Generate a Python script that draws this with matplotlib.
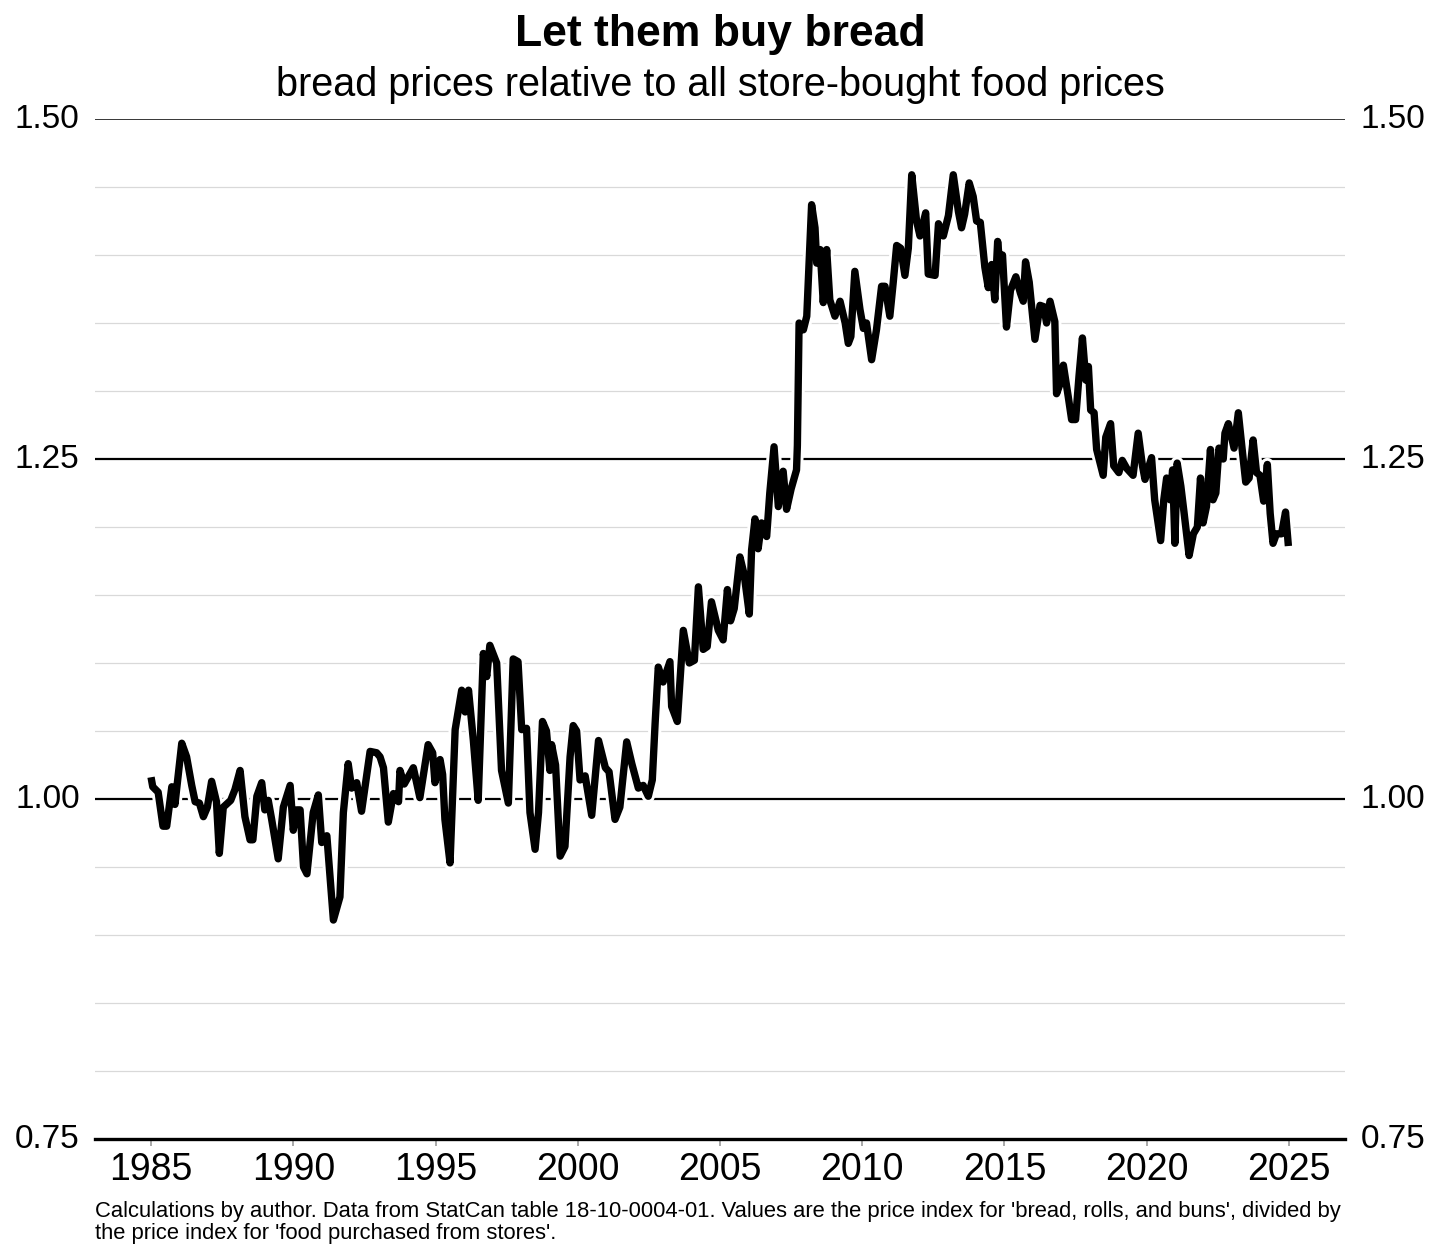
import matplotlib
matplotlib.use("Agg")
import matplotlib.pyplot as plt
import matplotlib.patheffects as pe
import numpy as np

plt.rcParams['font.family'] = ['Liberation Sans', 'DejaVu Sans']

# bread price index / store-bought food price index
years = [
    1985.00, 1985.06, 1985.25, 1985.42, 1985.55, 1985.73, 1985.84, 1986.08, 1986.25, 1986.43,
    1986.55, 1986.70, 1986.84, 1986.98, 1987.13, 1987.30, 1987.40, 1987.54, 1987.80, 1987.95,
    1988.13, 1988.30, 1988.48, 1988.58, 1988.72, 1988.89, 1989.00, 1989.12, 1989.24, 1989.47,
    1989.65, 1989.89, 1990.00, 1990.12, 1990.24, 1990.36, 1990.48, 1990.70, 1990.88, 1991.00,
    1991.18, 1991.41, 1991.64, 1991.76, 1991.93, 1992.05, 1992.23, 1992.40, 1992.70, 1992.93,
    1993.05, 1993.17, 1993.34, 1993.52, 1993.70, 1993.75, 1993.90, 1994.22, 1994.45, 1994.74,
    1994.90, 1994.98, 1995.16, 1995.25, 1995.33, 1995.51, 1995.69, 1995.92, 1996.04, 1996.16,
    1996.33, 1996.50, 1996.68, 1996.80, 1996.91, 1997.15, 1997.32, 1997.56, 1997.73, 1997.90,
    1998.03, 1998.20, 1998.32, 1998.50, 1998.62, 1998.76, 1998.90, 1999.02, 1999.08, 1999.22,
    1999.38, 1999.55, 1999.73, 1999.84, 1999.96, 2000.08, 2000.26, 2000.49, 2000.73, 2000.97,
    2001.10, 2001.31, 2001.48, 2001.72, 2001.90, 2002.13, 2002.30, 2002.48, 2002.62, 2002.72,
    2002.83, 2003.00, 2003.24, 2003.30, 2003.50, 2003.71, 2003.92, 2004.10, 2004.24, 2004.41,
    2004.55, 2004.70, 2004.94, 2005.11, 2005.26, 2005.37, 2005.50, 2005.70, 2005.85, 2006.03,
    2006.11, 2006.23, 2006.34, 2006.46, 2006.64, 2006.75, 2006.90, 2007.05, 2007.22, 2007.34,
    2007.50, 2007.69, 2007.72, 2007.78, 2007.93, 2008.05, 2008.22, 2008.34, 2008.40, 2008.52,
    2008.63, 2008.75, 2008.86, 2009.04, 2009.22, 2009.40, 2009.51, 2009.60, 2009.74, 2009.92,
    2010.04, 2010.15, 2010.33, 2010.50, 2010.68, 2010.80, 2010.97, 2011.09, 2011.21, 2011.35,
    2011.50, 2011.62, 2011.74, 2011.91, 2012.03, 2012.23, 2012.32, 2012.56, 2012.68, 2012.85,
    2013.03, 2013.20, 2013.38, 2013.49, 2013.60, 2013.76, 2013.90, 2014.02, 2014.15, 2014.31,
    2014.43, 2014.55, 2014.66, 2014.76, 2014.85, 2014.93, 2015.07, 2015.21, 2015.40, 2015.56,
    2015.66, 2015.74, 2015.87, 2016.07, 2016.25, 2016.38, 2016.48, 2016.60, 2016.77, 2016.83,
    2016.95, 2017.07, 2017.24, 2017.36, 2017.50, 2017.62, 2017.74, 2017.86, 2017.95, 2018.03,
    2018.15, 2018.24, 2018.47, 2018.56, 2018.73, 2018.84, 2019.02, 2019.14, 2019.30, 2019.52,
    2019.70, 2019.85, 2019.94, 2020.17, 2020.28, 2020.49, 2020.60, 2020.70, 2020.82, 2020.91,
    2020.99, 2021.07, 2021.20, 2021.31, 2021.49, 2021.64, 2021.78, 2021.89, 2021.98, 2022.10,
    2022.24, 2022.33, 2022.43, 2022.54, 2022.69, 2022.75, 2022.87, 2023.07, 2023.22, 2023.35,
    2023.48, 2023.60, 2023.74, 2023.86, 2023.98, 2024.11, 2024.24, 2024.34, 2024.44, 2024.56,
    2024.74, 2024.88, 2024.98,
]
ratio = [
    1.016, 1.009, 1.005, 0.980, 0.980, 1.009, 0.996, 1.041, 1.031, 1.010,
    0.998, 0.997, 0.987, 0.994, 1.013, 0.998, 0.960, 0.994, 0.999, 1.007,
    1.021, 0.987, 0.970, 0.970, 1.002, 1.012, 0.992, 0.999, 0.985, 0.956,
    0.994, 1.010, 0.977, 0.992, 0.992, 0.950, 0.945, 0.990, 1.003, 0.968,
    0.973, 0.911, 0.928, 0.990, 1.026, 1.008, 1.012, 0.991, 1.035, 1.034,
    1.031, 1.023, 0.983, 1.004, 0.998, 1.021, 1.011, 1.023, 1.001, 1.040,
    1.034, 1.012, 1.029, 1.018, 0.985, 0.953, 1.051, 1.080, 1.064, 1.080,
    1.043, 0.999, 1.107, 1.090, 1.113, 1.100, 1.021, 0.997, 1.103, 1.101,
    1.051, 1.052, 0.990, 0.963, 0.990, 1.057, 1.050, 1.021, 1.040, 1.025,
    0.958, 0.965, 1.031, 1.054, 1.050, 1.014, 1.017, 0.988, 1.043, 1.023,
    1.020, 0.985, 0.994, 1.042, 1.026, 1.008, 1.010, 1.002, 1.014, 1.056,
    1.097, 1.086, 1.101, 1.068, 1.057, 1.124, 1.100, 1.102, 1.156, 1.110,
    1.112, 1.145, 1.124, 1.117, 1.154, 1.131, 1.140, 1.178, 1.165, 1.136,
    1.183, 1.206, 1.184, 1.203, 1.193, 1.225, 1.259, 1.215, 1.241, 1.213,
    1.228, 1.242, 1.260, 1.350, 1.345, 1.355, 1.437, 1.420, 1.394, 1.404,
    1.365, 1.404, 1.367, 1.355, 1.366, 1.350, 1.335, 1.340, 1.388, 1.360,
    1.346, 1.350, 1.323, 1.345, 1.377, 1.377, 1.355, 1.380, 1.407, 1.405,
    1.385, 1.405, 1.459, 1.425, 1.414, 1.431, 1.386, 1.385, 1.423, 1.414,
    1.429, 1.459, 1.432, 1.420, 1.430, 1.453, 1.443, 1.425, 1.424, 1.391,
    1.376, 1.393, 1.367, 1.410, 1.390, 1.400, 1.347, 1.374, 1.384, 1.372,
    1.366, 1.395, 1.380, 1.338, 1.363, 1.362, 1.350, 1.366, 1.351, 1.298,
    1.305, 1.319, 1.296, 1.279, 1.279, 1.311, 1.339, 1.308, 1.318, 1.286,
    1.284, 1.257, 1.238, 1.266, 1.276, 1.245, 1.240, 1.249, 1.243, 1.238,
    1.269, 1.245, 1.235, 1.251, 1.220, 1.190, 1.220, 1.236, 1.220, 1.242,
    1.188, 1.247, 1.230, 1.211, 1.179, 1.195, 1.200, 1.236, 1.203, 1.215,
    1.257, 1.220, 1.225, 1.258, 1.250, 1.269, 1.276, 1.258, 1.284, 1.258,
    1.233, 1.236, 1.264, 1.240, 1.238, 1.219, 1.246, 1.210, 1.188, 1.195,
    1.195, 1.211, 1.186,
]

major_y = [0.75, 1.00, 1.25, 1.50]
minor_y = [0.80, 0.85, 0.90, 0.95, 1.05, 1.10, 1.15, 1.20, 1.30, 1.35, 1.40, 1.45]
year_ticks = [1985, 1990, 1995, 2000, 2005, 2010, 2015, 2020, 2025]

fig = plt.figure(figsize=(14.4, 12.6), dpi=100)
ax = fig.add_axes([95 / 1440, 121 / 1260, 1250 / 1440, 1020 / 1260])

for y in minor_y:
    ax.axhline(y, color='#d9d9d9', lw=0.9, zorder=1)
ax.axhline(1.00, color='black', lw=1.6, zorder=1)
ax.axhline(1.25, color='black', lw=1.6, zorder=1)
ax.axhline(1.50, color='black', lw=1.1, zorder=1)
ax.axhline(0.75, color='black', lw=2.4, zorder=4, clip_on=False)

ax.plot(years, ratio, color='black', lw=5.3, solid_joinstyle='round',
        solid_capstyle='butt', zorder=3,
        path_effects=[pe.Stroke(linewidth=9.5, foreground='white'), pe.Normal()])

ax.set_xlim(1983.03, 2026.97)
ax.set_ylim(0.75, 1.50)
ax.set_xticks(year_ticks)
ax.set_yticks(major_y)
ax.set_yticklabels([f'{v:.2f}' for v in major_y])
for s in ax.spines.values():
    s.set_visible(False)

ax.tick_params(axis='x', length=5, width=1.2, color='#999999', labelsize=27, pad=4)
ax.tick_params(axis='y', length=0, labelsize=24, pad=11, labelright=True)
for lab in ax.get_yticklabels(which='both'):
    lab.set_verticalalignment('center')

fig.text(0.5, 1 - 46 / 1260, 'Let them buy bread', ha='center', va='baseline',
         fontsize=32, fontweight='bold')
fig.text(0.5, 1 - 96 / 1260, 'bread prices relative to all store-bought food prices',
         ha='center', va='baseline', fontsize=28.5)
fig.text(95 / 1440, 1 - 1201 / 1260,
         "Calculations by author. Data from StatCan table 18-10-0004-01. Values are the price index "
         "for 'bread, rolls, and buns', divided by\nthe price index for 'food purchased from stores'.",
         ha='left', va='top', fontsize=15.8, linespacing=1.05)

fig.savefig('out.png', dpi=100, facecolor='white')
